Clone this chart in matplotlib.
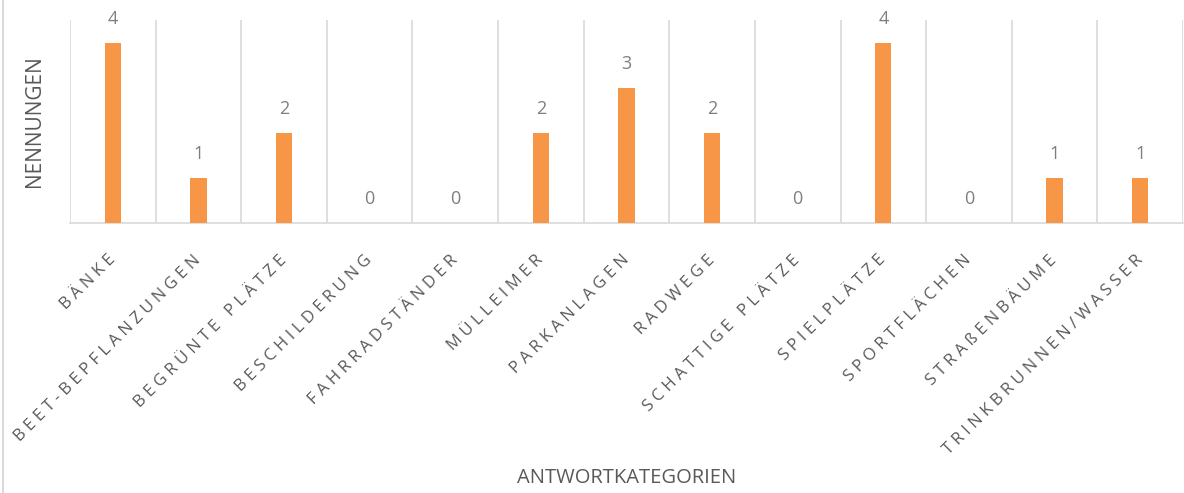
import matplotlib
matplotlib.use('Agg')
import matplotlib.pyplot as plt
from matplotlib.lines import Line2D

# Answer categories and counts
categories = ['Bänke', 'Beet-Bepflanzungen', 'Begrünte Plätze', 'Beschilderung',
              'Fahrradständer', 'Mülleimer', 'Parkanlagen', 'Radwege',
              'Schattige Plätze', 'Spielplätze', 'Sportflächen', 'Straßenbäume',
              'Trinkbrunnen/Wasser']
counts = [4, 1, 2, 0, 0, 2, 3, 2, 0, 4, 0, 1, 1]

BAR = '#F79646'
GRID = '#D9D9D9'
TEXT = '#595959'
FONT = ['Open Sans', 'DejaVu Sans']

plt.rcParams['font.family'] = FONT


def spaced(s):
    # caps with wide letter spacing; keep ß as it is (str.upper makes it SS)
    up = ''.join(c if c == 'ß' else c.upper() for c in s)
    return '\u2009\u200a'.join(up)


fig = plt.figure(figsize=(11.84, 4.93), dpi=100)
ax = fig.add_axes([70 / 1184, 1 - 223 / 493, 1113 / 1184, 203 / 493])

x = list(range(len(categories)))
ax.bar(x, counts, width=0.19, color=BAR, zorder=3)

for xi, v in zip(x, counts):
    ax.annotate(str(v), (xi, v), xytext=(0, 17), textcoords='offset points',
                ha='center', va='center', fontsize=13, color='#7F7F7F')

# vertical separators between the categories
for b in range(len(categories) + 1):
    ax.axvline(b - 0.5, color=GRID, lw=1.2, zorder=1)

ax.set_xlim(-0.5, len(categories) - 0.5)
ax.set_ylim(0, 4.5)
ax.set_yticks([])
ax.set_xticks(x)
ax.set_xticklabels([spaced(c) for c in categories], rotation=45, ha='right',
                   va='center', rotation_mode='anchor', fontsize=12, color=TEXT)
ax.tick_params(axis='x', length=0, pad=25)

for side in ['top', 'right', 'left']:
    ax.spines[side].set_visible(False)
ax.spines['bottom'].set_color(GRID)
ax.spines['bottom'].set_linewidth(1.2)

fig.text(35 / 1184, 1 - 121 / 493, 'NENNUNGEN', rotation=90, ha='center',
         va='center', fontsize=15, color=TEXT)
fig.text(627 / 1184, 1 - 478 / 493, 'ANTWORTKATEGORIEN', ha='center',
         va='center', fontsize=14.5, color=TEXT)

# chart frame edge on the left
fig.add_artist(Line2D([3 / 1184, 3 / 1184], [0, 1], transform=fig.transFigure,
                      color=GRID, lw=1.5))

fig.savefig('out.png', dpi=100)
